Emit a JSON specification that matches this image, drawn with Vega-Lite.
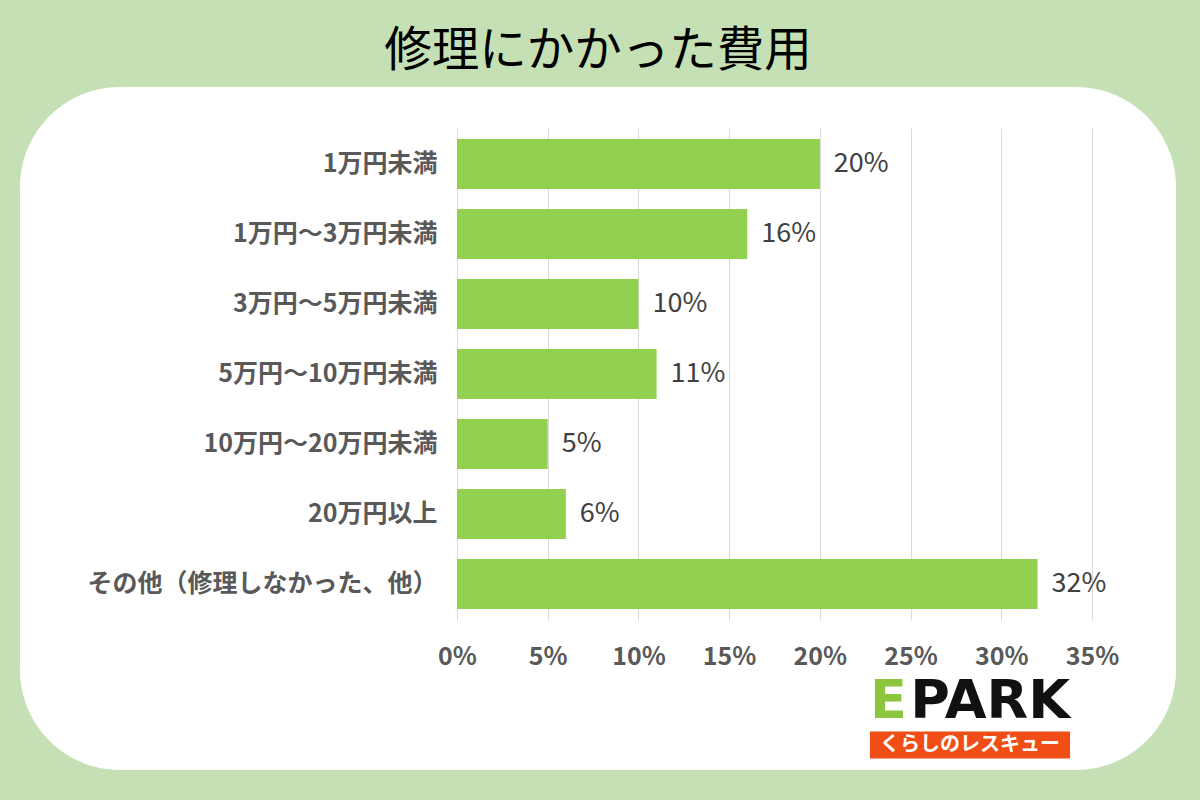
{
  "$schema": "https://vega.github.io/schema/vega-lite/v6.json",
  "width": 1156,
  "height": 683,
  "autosize": {"type": "none"},
  "padding": {"left": 20, "top": 87, "right": 24, "bottom": 30},
  "background": "#c5e0b4",
  "view": {"fill": "white", "stroke": null, "cornerRadius": 100},
  "title": {
    "text": "修理にかかった費用",
    "font": "Noto Sans CJK JP",
    "fontSize": 47.5,
    "fontWeight": "normal",
    "color": "#000000",
    "anchor": "middle",
    "offset": 12
  },
  "config": {
    "font": "Noto Sans CJK JP"
  },
  "data": {
    "values": [
      {"category": "1万円未満", "share": 0.20},
      {"category": "1万円～3万円未満", "share": 0.16},
      {"category": "3万円～5万円未満", "share": 0.10},
      {"category": "5万円～10万円未満", "share": 0.11},
      {"category": "10万円～20万円未満", "share": 0.05},
      {"category": "20万円以上", "share": 0.06},
      {"category": "その他（修理しなかった、他）", "share": 0.32}
    ]
  },
  "encoding": {
    "y": {
      "field": "category",
      "type": "nominal",
      "sort": null,
      "title": null,
      "scale": {"range": [41, 533], "paddingInner": 0.2857, "paddingOuter": 0.157},
      "axis": {
        "domain": false,
        "ticks": false,
        "tickSize": 0,
        "labelPadding": 0,
        "offset": -417,
        "labelFont": "Noto Sans CJK JP",
        "labelFontSize": 25,
        "labelFontWeight": "bold",
        "labelColor": "#595959",
        "labelLimit": 500,
        "grid": false
      }
    }
  },
  "layer": [
    {
      "mark": {"type": "bar", "color": "#92d050"},
      "encoding": {
        "x": {
          "field": "share",
          "type": "quantitative",
          "title": null,
          "scale": {"domain": [0, 0.35], "range": [437, 1072], "nice": false},
          "axis": {
            "orient": "top",
            "values": [0, 0.05, 0.1, 0.15, 0.2, 0.25, 0.3, 0.35],
            "format": ".0%",
            "domain": false,
            "ticks": false,
            "tickSize": 0,
            "labelPadding": -557,
            "labelBaseline": "top",
            "labelFlush": false,
            "labelOverlap": false,
            "grid": true,
            "gridColor": "#d9d9d9",
            "gridWidth": 1,
            "labelFont": "Noto Sans CJK JP",
            "labelFontSize": 25,
            "labelFontWeight": "bold",
            "labelColor": "#595959"
          }
        }
      }
    },
    {
      "mark": {
        "type": "text",
        "align": "left",
        "baseline": "middle",
        "dx": 14,
        "font": "Noto Sans CJK JP",
        "fontSize": 27,
        "color": "#404040"
      },
      "encoding": {
        "x": {"field": "share", "type": "quantitative"},
        "text": {"field": "share", "type": "quantitative", "format": ".0%"}
      }
    },
    {
      "data": {"values": [{}]},
      "mark": {
        "type": "bar",
        "color": "#f04e16",
        "height": 27,
        "yOffset": 161
      },
      "encoding": {
        "x": {"datum": 0.2276},
        "x2": {"datum": 0.3379},
        "y": {"datum": "その他（修理しなかった、他）"}
      }
    },
    {
      "data": {"values": [{}]},
      "mark": {
        "type": "text",
        "text": "くらしのレスキュー",
        "align": "center",
        "baseline": "middle",
        "dy": 161,
        "font": "Noto Sans CJK JP",
        "fontSize": 20,
        "fontWeight": "bold",
        "color": "white"
      },
      "encoding": {
        "x": {"datum": 0.2828},
        "y": {"datum": "その他（修理しなかった、他）"}
      }
    },
    {
      "data": {"values": [{}]},
      "mark": {
        "type": "text",
        "text": "E",
        "align": "left",
        "baseline": "middle",
        "dy": 118,
        "font": "DejaVu Sans",
        "fontSize": 54,
        "fontWeight": "bold",
        "color": "#8cc63f"
      },
      "encoding": {
        "x": {"datum": 0.2276},
        "y": {"datum": "その他（修理しなかった、他）"}
      }
    },
    {
      "data": {"values": [{}]},
      "mark": {
        "type": "text",
        "text": "PARK",
        "align": "right",
        "baseline": "middle",
        "dy": 118,
        "font": "DejaVu Sans",
        "fontSize": 54,
        "fontWeight": "bold",
        "color": "#111111"
      },
      "encoding": {
        "x": {"datum": 0.3379},
        "y": {"datum": "その他（修理しなかった、他）"}
      }
    }
  ]
}
